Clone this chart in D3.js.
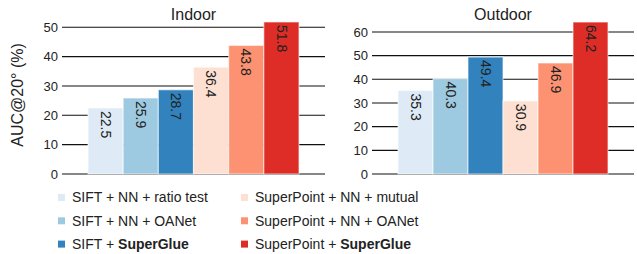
<!DOCTYPE html>
<html>
<head>
<meta charset="utf-8">
<script src="https://cdn.jsdelivr.net/npm/d3@7"></script>
<style>
  body { margin: 0; background: #fff; }
  text { font-family: "Liberation Sans", Arial, sans-serif; fill: #222; }
</style>
</head>
<body>
<div id="chart"></div>
<script>
  // данные
  let methods = ['SIFT + NN + ratio test', 'SIFT + NN + OANet', 'SIFT + SuperGlue',
                 'SuperPoint + NN + mutual', 'SuperPoint + NN + OANet', 'SuperPoint + SuperGlue'];
  let indoor = [22.5, 25.9, 28.7, 36.4, 43.8, 51.8];
  let outdoor = [35.3, 40.3, 49.4, 30.9, 46.9, 64.2];
  let indoorTicks = [0, 10, 20, 30, 40, 50];
  let outdoorTicks = [0, 10, 20, 30, 40, 50, 60];
  let colors = ['#deebf7', '#9ecae1', '#3182bd', '#fee0d2', '#fc9272', '#de2d26'];

  let W = 637, H = 254;
  let svg = d3.select('#chart').append('svg').attr('width', W).attr('height', H);

  let y0 = 174;

  function panel(title, values, ticks, x0, x1, maxV, pxPerUnit) {
    let g = svg.append('g');
    let x = d3.scaleBand().domain(d3.range(values.length))
              .range([x0 + 26, x1 - 26]).paddingInner(0).paddingOuter(0);
    let y = d3.scaleLinear().domain([0, maxV]).range([y0, y0 - maxV * pxPerUnit]);

    // сетка
    g.selectAll('line.grid').data(ticks).enter().append('line')
      .attr('x1', x0).attr('x2', x1)
      .attr('y1', d => y(d)).attr('y2', d => y(d))
      .attr('stroke', '#111').attr('stroke-width', 1.1);

    // подписи оси
    let axis = d3.axisLeft(y).tickValues(ticks).tickSize(0).tickPadding(4);
    let ag = g.append('g').attr('transform', `translate(${x0},0)`).call(axis);
    ag.select('.domain').remove();
    ag.selectAll('text').style('font-size', '13px').attr('fill', '#222')
      .style('font-family', '"Liberation Sans", Arial, sans-serif');

    // столбцы
    g.selectAll('rect').data(values).enter().append('rect')
      .attr('x', (d, i) => x(i)).attr('width', x.bandwidth())
      .attr('y', d => y(d)).attr('height', d => y0 - y(d))
      .attr('fill', (d, i) => colors[i])
      .attr('stroke', 'rgba(255,255,255,0.55)').attr('stroke-width', 1.2);

    // значения
    g.selectAll('text.val').data(values).enter().append('text').attr('class', 'val')
      .attr('transform', (d, i) => `translate(${x(i) + x.bandwidth() / 2},${y(d) + 3}) rotate(90)`)
      .attr('dy', '0.35em')
      .style('font-size', '14px')
      .text(d => d.toFixed(1));

    // заголовок
    g.append('text').attr('x', (x0 + x1) / 2).attr('y', 20)
      .attr('text-anchor', 'middle').style('font-size', '16px').text(title);
  }

  panel('Indoor', indoor, indoorTicks, 62, 325, 55, 2.935);
  panel('Outdoor', outdoor, outdoorTicks, 372, 634, 65, 2.367);

  // подпись оси Y
  svg.append('text').attr('transform', 'translate(23,95) rotate(-90)')
    .attr('text-anchor', 'middle').style('font-size', '16px').text('AUC@20° (%)');

  // легенда
  let legend = svg.append('g');
  methods.forEach((m, i) => {
    let col = Math.floor(i / 3), row = i % 3;
    let lx = 58 + col * 183, ly = 197.5 + row * 23.3;
    legend.append('rect').attr('x', lx).attr('y', ly - 3.5).attr('width', 7).attr('height', 7)
      .attr('fill', colors[i]);
    let t = legend.append('text').attr('x', lx + 14).attr('y', ly).attr('dy', '0.35em')
      .style('font-size', '14px');
    let parts = m.split('SuperGlue');
    if (parts.length > 1) {
      t.append('tspan').text(parts[0]);
      t.append('tspan').style('font-weight', 'bold').text('SuperGlue');
    } else t.text(m);
  });
</script>
</body>
</html>
